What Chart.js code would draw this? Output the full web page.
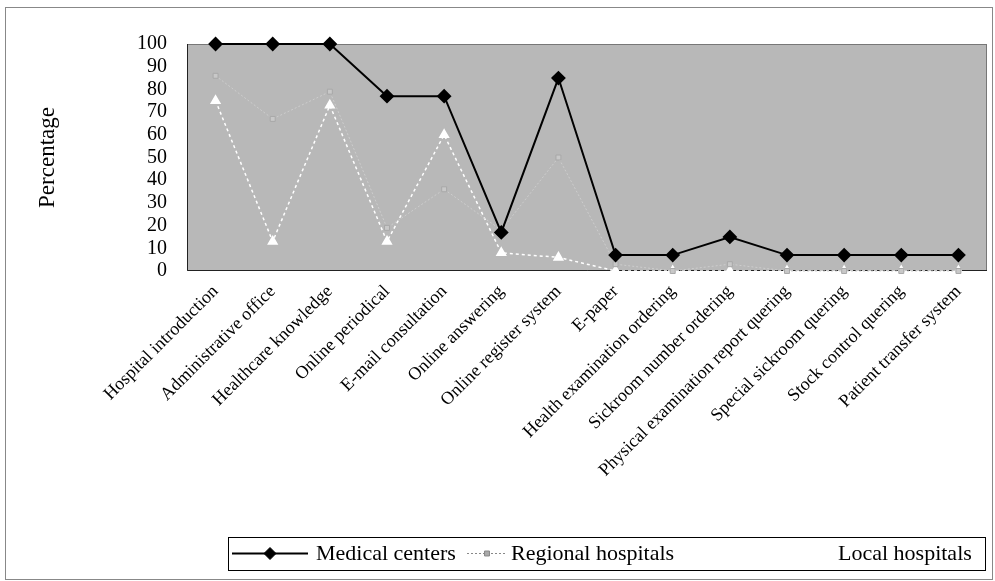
<!DOCTYPE html>
<html>
<head>
<meta charset="utf-8">
<script src="https://cdn.jsdelivr.net/npm/chart.js@4.4.1/dist/chart.umd.min.js"></script>
<style>
  body { margin: 0; background: #fff; }
  canvas { display: block; }
</style>
</head>
<body>
<canvas id="chart" width="995" height="581"></canvas>
<script>
// Categories (x axis)
const categories = [
    'Hospital introduction', 'Administrative office', 'Healthcare knowledge',
    'Online periodical', 'E-mail consultation', 'Online answering',
    'Online register system', 'E-paper', 'Health examination ordering',
    'Sickroom number ordering', 'Physical examination report quering',
    'Special sickroom quering', 'Stock control quering', 'Patient transfer system'
];

// Series values
const medicalCenters    = [100, 100, 100, 77, 77, 17, 85, 7, 7, 15, 7, 7, 7, 7];
const regionalHospitals = [86, 67, 79, 19, 36, 18, 50, 3, 0, 3, 0, 0, 0, 0];
const localHospitals    = [75, 13, 73, 13, 60, 8, 6, 0, 0, 0, 0, 0, 0, 0];

const seriesNames = ['Medical centers', 'Regional hospitals', 'Local hospitals'];
const yTicks = [0, 10, 20, 30, 40, 50, 60, 70, 80, 90, 100];

const SERIF = '"Liberation Serif", "Times New Roman", serif';

// gray plot background + frame + outer border
const plotBackground = {
    id: 'plotBackground',
    beforeDraw(chart) {
        const { ctx, chartArea: a } = chart;
        ctx.save();
        ctx.fillStyle = '#b8b8b8';
        ctx.fillRect(a.left, a.top, a.right - a.left, a.bottom - a.top);
        ctx.strokeStyle = '#777';
        ctx.lineWidth = 1;
        ctx.strokeRect(a.left + 0.5, a.top + 0.5, a.right - a.left - 1, a.bottom - a.top - 1);
        // left and bottom edges darker
        ctx.strokeStyle = '#222';
        ctx.beginPath();
        ctx.moveTo(a.left + 0.5, a.top);
        ctx.lineTo(a.left + 0.5, a.bottom - 0.5);
        ctx.lineTo(a.right, a.bottom - 0.5);
        ctx.stroke();
        ctx.restore();
    },
    afterDraw(chart) {
        const ctx = chart.ctx;
        ctx.save();
        ctx.strokeStyle = '#888';
        ctx.lineWidth = 1;
        ctx.strokeRect(5.5, 7.5, 987, 572);
        ctx.restore();
    }
};

// legend drawn like the original: line sample with marker, boxed
const boxedLegend = {
    id: 'boxedLegend',
    afterDraw(chart) {
        const ctx = chart.ctx;
        const top = 537, bottom = 570, mid = (top + bottom) / 2;
        const samples = [
            { x0: 232, x1: 308, tx: 316 },
            { x0: 467, x1: 507, tx: 511 },
            { x0: 785, x1: 830, tx: 838 }
        ];
        ctx.save();
        ctx.strokeStyle = '#000';
        ctx.lineWidth = 1;
        ctx.strokeRect(228.5, top + 0.5, 757, bottom - top);

        chart.data.datasets.forEach((ds, i) => {
            const s = samples[i];
            const col = ds.legendColor || ds.borderColor;
            ctx.save();
            ctx.strokeStyle = col;
            ctx.lineWidth = ds.borderWidth;
            ctx.setLineDash(ds.borderDash || []);
            ctx.beginPath();
            ctx.moveTo(s.x0, mid);
            ctx.lineTo(s.x1, mid);
            ctx.stroke();
            ctx.restore();
            ctx.save();
            ctx.fillStyle = ds.legendFill || ds.pointBackgroundColor;
            ctx.strokeStyle = col;
            Chart.helpers.drawPoint(ctx, {
                pointStyle: ds.pointStyle,
                radius: ds.pointRadius,
                borderWidth: 1
            }, (s.x0 + s.x1) / 2, mid);
            ctx.restore();
            ctx.fillStyle = '#000';
            ctx.font = '22px ' + SERIF;
            ctx.textBaseline = 'middle';
            ctx.fillText(ds.label, s.tx, mid + 1);
        });
        ctx.restore();
    }
};

const ctx = document.getElementById('chart').getContext('2d');

new Chart(ctx, {
    type: 'line',
    data: {
        labels: categories,
        datasets: [{
            label: seriesNames[0],
            data: medicalCenters,
            borderColor: '#000',
            backgroundColor: '#000',
            borderWidth: 2,
            pointStyle: 'rectRot',
            pointRadius: 6,
            pointBackgroundColor: '#000',
            pointBorderColor: '#000',
            clip: false,
            order: 1
        }, {
            label: seriesNames[1],
            data: regionalHospitals,
            borderColor: '#cdcdcd',
            backgroundColor: '#c4c4c4',
            borderWidth: 1,
            borderDash: [2, 2],
            pointStyle: 'rect',
            pointRadius: 3.5,
            pointBackgroundColor: '#c8c8c8',
            pointBorderColor: '#a8a8a8',
            legendColor: '#888',
            legendFill: '#aaa',
            clip: false,
            order: 2
        }, {
            label: seriesNames[2],
            data: localHospitals,
            borderColor: '#ffffff',
            backgroundColor: '#ffffff',
            borderWidth: 1.5,
            borderDash: [3, 3],
            pointStyle: 'triangle',
            pointRadius: 5,
            pointBackgroundColor: '#ffffff',
            pointBorderColor: '#ffffff',
            clip: false,
            order: 3
        }]
    },
    options: {
        responsive: false,
        animation: false,
        events: [],
        layout: {
            padding: { top: 44, left: 28, right: 8, bottom: 70 }
        },
        plugins: {
            legend: { display: false },
            tooltip: { enabled: false }
        },
        scales: {
            x: {
                offset: true,
                grid: { display: false, offset: true },
                border: { display: false },
                ticks: {
                    color: '#000',
                    font: { family: SERIF, size: 18 },
                    autoSkip: false,
                    maxRotation: 45,
                    minRotation: 45,
                    padding: 2
                },
                afterFit(scale) { scale.height = 240; }
            },
            y: {
                min: 0,
                max: 100,
                afterBuildTicks(scale) { scale.ticks = yTicks.map(v => ({ value: v })); },
                grid: { display: false },
                border: { display: false },
                ticks: {
                    color: '#000',
                    font: { family: SERIF, size: 20 },
                    autoSkip: false,
                    padding: 12
                },
                title: {
                    display: true,
                    text: 'Percentage',
                    color: '#000',
                    font: { family: SERIF, size: 23 },
                    padding: { top: 6, bottom: 0 }
                },
                afterFit(scale) { scale.width = 159; }
            }
        }
    },
    plugins: [plotBackground, boxedLegend]
});
</script>
</body>
</html>
